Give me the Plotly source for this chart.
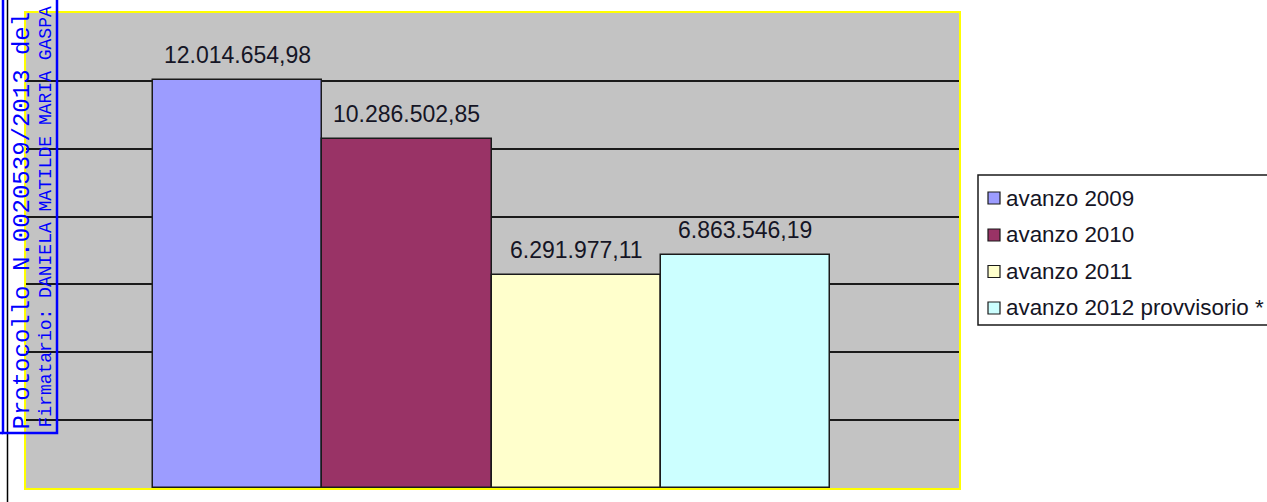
import plotly.graph_objects as go

# ---- data ----
categories = ["avanzo 2009", "avanzo 2010", "avanzo 2011", "avanzo 2012 provvisorio *"]
values = [12014654.98, 10286502.85, 6291977.11, 6863546.19]
value_labels = ["12.014.654,98", "10.286.502,85", "6.291.977,11", "6.863.546,19"]
colors = ["#9C9CFF", "#993366", "#FFFFCC", "#CCFFFF"]
y_max = 14000000
y_step = 2000000
stamp_main = "Protocollo N.0020539/2013 del"
stamp_sub = "Firmatario: DANIELA MATILDE MARIA GASPA"

W, H = 1267, 502
L, R, T, B = 26, 308, 13, 14
PW, PH = W - L - R, H - T - B


def px(xp):
    return (xp - L) / PW


def py(yp):
    return (H - B - yp) / PH


fig = go.Figure()
for cat, val, col in zip(categories, values, colors):
    fig.add_trace(go.Bar(
        x=[cat], y=[val], name=cat, showlegend=False,
        marker=dict(color=col, line=dict(color="#1a1a1a", width=1.5)),
        width=1.0, hoverinfo="skip",
    ))

annotations = []
for cat, val, lab in zip(categories, values, value_labels):
    annotations.append(dict(
        x=cat, y=val, xref="x", yref="y", text=lab, showarrow=False,
        yanchor="middle", yshift=25,
        font=dict(family="Liberation Sans, Arial", size=23, color="#151525"),
    ))

# stamp texts
annotations.append(dict(
    x=px(21.5), y=py(432), xref="paper", yref="paper", text=stamp_main,
    showarrow=False, textangle=-90, xanchor="center", yanchor="bottom",
    font=dict(family="Liberation Mono, Courier New", size=24, color="#0000FF"),
))
annotations.append(dict(
    x=px(45), y=py(430), xref="paper", yref="paper", text=stamp_sub,
    showarrow=False, textangle=-90, xanchor="center", yanchor="bottom",
    font=dict(family="Liberation Mono, Courier New", size=18, color="#0000FF"),
))

shapes = [
    # black vertical line
    dict(type="line", xref="paper", yref="paper", x0=px(7.5), x1=px(7.5), y0=py(-2), y1=py(H + 2),
         line=dict(color="#000000", width=1.5)),
    # blue stamp frame
    dict(type="rect", xref="paper", yref="paper", x0=px(3), x1=px(57), y0=py(433), y1=py(-5),
         line=dict(color="#0000FF", width=2.5)),
    dict(type="line", xref="paper", yref="paper", x0=px(-2), x1=px(3), y0=py(433), y1=py(433),
         line=dict(color="#0000FF", width=2.5)),
    # legend frame
    dict(type="rect", xref="paper", yref="paper", x0=px(978), x1=px(W + 10), y0=py(325), y1=py(175),
         line=dict(color="#1a1a1a", width=1.5), fillcolor="white"),
]

# custom legend rows
row_y = [198, 235, 271.5, 308]
for cat, col, yc in zip(categories, colors, row_y):
    shapes.append(dict(type="rect", xref="paper", yref="paper",
                       x0=px(988), x1=px(1000), y0=py(yc + 6), y1=py(yc - 6),
                       line=dict(color="#1a1a1a", width=1.2), fillcolor=col))
    annotations.append(dict(
        x=px(1004), y=py(yc), xref="paper", yref="paper", text=cat, showarrow=False,
        xanchor="left", yanchor="middle",
        font=dict(family="Liberation Sans, Arial", size=22.4, color="#151525"),
    ))

unit = 169.25
x0 = -0.5 - (153 - L) / unit
x1 = x0 + PW / unit

fig.update_layout(
    width=W, height=H, autosize=False,
    margin=dict(l=L, r=R, t=T, b=B, pad=0),
    paper_bgcolor="white", plot_bgcolor="#C3C3C3",
    barmode="overlay", bargap=0,
    showlegend=False,
    xaxis=dict(type="category", range=[x0, x1], showticklabels=False, showgrid=False,
               zeroline=False, showline=True, linecolor="#FFFF00", linewidth=2, mirror=True,
               ticks="", fixedrange=True),
    yaxis=dict(range=[0, y_max], dtick=y_step, tick0=0, showticklabels=False, showgrid=True,
               gridcolor="#1a1a1a", gridwidth=2, zeroline=False, showline=True,
               linecolor="#FFFF00", linewidth=2, mirror=True, ticks="", fixedrange=True),
    annotations=annotations,
    shapes=shapes,
)

fig.write_html(
    "out.html",
    config={"displayModeBar": False},
    post_script="document.body.style.margin='0';document.body.style.overflow='hidden';",
)
